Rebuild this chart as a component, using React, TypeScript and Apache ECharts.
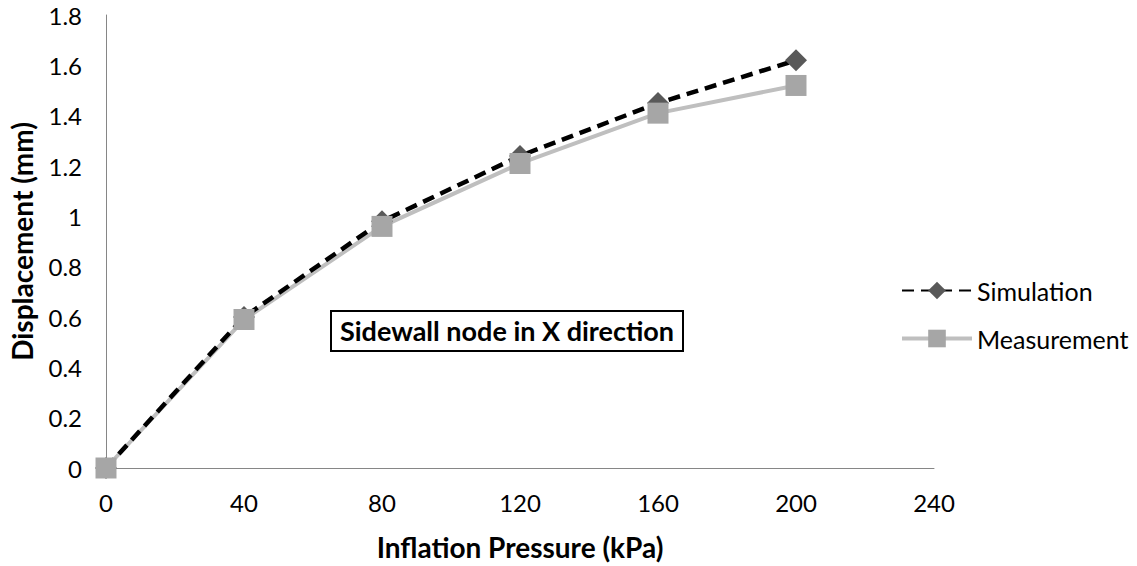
import React, { useEffect, useRef } from "react";
import * as echarts from "echarts";

const pressure = [0, 40, 80, 120, 160, 200];
const simulation = [0, 0.6, 0.98, 1.24, 1.45, 1.62];
const measurement = [0, 0.59, 0.96, 1.21, 1.41, 1.52];
const seriesNames = ["Simulation", "Measurement"];
const xTitle = "Inflation Pressure (kPa)";
const yTitle = "Displacement (mm)";
const annotation = "Sidewall node in X direction";

const FONT = "Lato";

export default function App() {
  const ref = useRef<HTMLDivElement>(null);
  useEffect(() => {
    if (!ref.current) return;
    const chart = echarts.init(ref.current, undefined, { renderer: "svg" });
    const simData = pressure.map((p, i) => [p, simulation[i]]);
    const measData = pressure.map((p, i) => [p, measurement[i]]);
    chart.setOption({
      animation: false,
      backgroundColor: "#fff",
      textStyle: { fontFamily: FONT },
      title: {
        text: annotation,
        left: 331,
        top: 311,
        padding: [6, 9, 7, 9],
        borderColor: "#000",
        borderWidth: 2,
        textStyle: { fontFamily: FONT, fontSize: 27, fontWeight: "bold", color: "#000" },
      },
      legend: {
        orient: "vertical",
        left: 895,
        top: 273,
        itemWidth: 70,
        itemHeight: 22,
        itemGap: 23,
        data: [
          { name: seriesNames[0] },
          { name: seriesNames[1], lineStyle: { opacity: 1, color: "#BFBFBF", width: 4 } },
        ],
        textStyle: { fontFamily: FONT, fontSize: 25, color: "#000" },
      },
      grid: { left: 104, top: 15, right: 203, bottom: 95 },
      xAxis: {
        type: "value",
        min: 0,
        max: 240,
        interval: 40,
        name: xTitle,
        nameLocation: "middle",
        nameGap: 65,
        nameTextStyle: { fontFamily: FONT, fontSize: 28, fontWeight: "bold", color: "#000" },
        axisLine: { show: true, onZero: false, lineStyle: { color: "#868686", width: 1 } },
        axisTick: { show: false },
        splitLine: { show: false },
        axisLabel: { fontFamily: FONT, fontSize: 24, color: "#000", margin: 22 },
      },
      yAxis: {
        type: "value",
        min: 0,
        max: 1.8,
        interval: 0.2,
        name: yTitle,
        nameLocation: "middle",
        nameGap: 70,
        nameTextStyle: { fontFamily: FONT, fontSize: 28, fontWeight: "bold", color: "#000" },
        axisLine: { show: true, lineStyle: { color: "#868686", width: 1 } },
        axisTick: { show: false },
        splitLine: { show: false },
        axisLabel: { fontFamily: FONT, fontSize: 24, color: "#000", margin: 24 },
      },
      series: [
        {
          name: "Measurement line",
          type: "line",
          data: measData,
          z: 1,
          showSymbol: false,
          symbol: "none",
          lineStyle: { color: "#BFBFBF", width: 4 },
          silent: true,
        },
        {
          name: "Simulation",
          type: "line",
          data: simData,
          z: 2,
          symbol: "diamond",
          symbolSize: 22,
          itemStyle: { color: "#595959" },
          lineStyle: { color: "#000", width: 4.5, type: [12, 7] },
        },
        {
          name: "Measurement",
          type: "line",
          data: measData,
          z: 3,
          symbol: "rect",
          symbolSize: 21,
          itemStyle: { color: "#A6A6A6" },
          lineStyle: { color: "#BFBFBF", width: 4, opacity: 0 },
        },
      ],
    });
    return () => chart.dispose();
  }, []);
  return <div ref={ref} style={{ width: 1137, height: 566, position: "absolute", left: 0, top: 0 }} />;
}
